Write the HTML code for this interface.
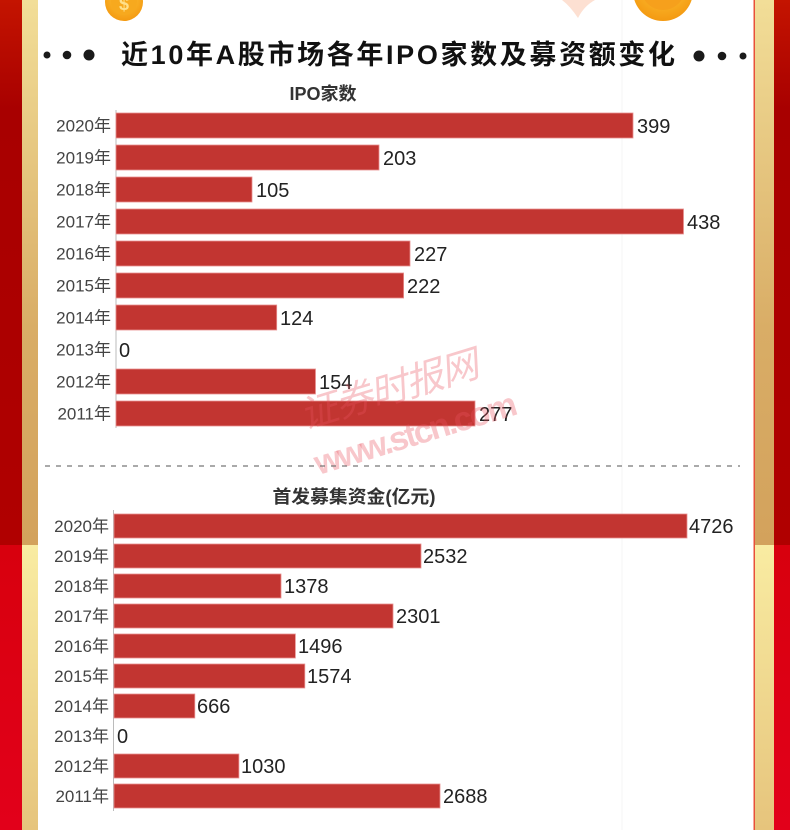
<!DOCTYPE html>
<html><head><meta charset="utf-8">
<style>
html,body{margin:0;padding:0;background:#fff;}
svg{display:block;}
text{font-family:"Liberation Sans","Noto Sans CJK SC",sans-serif;}
</style></head>
<body>
<svg width="790" height="830" viewBox="0 0 790 830" xmlns="http://www.w3.org/2000/svg">
<defs>
<linearGradient id="lgTop" x1="0" y1="0" x2="0" y2="1">
<stop offset="0" stop-color="#f2de98"/><stop offset="0.6" stop-color="#d9ad66"/><stop offset="1" stop-color="#d3a25c"/>
</linearGradient>
<linearGradient id="lgBot" x1="0" y1="0" x2="0" y2="1">
<stop offset="0" stop-color="#f9eca2"/><stop offset="1" stop-color="#e6c47c"/>
</linearGradient>
<linearGradient id="redTop" x1="0" y1="0" x2="0" y2="1">
<stop offset="0" stop-color="#c41400"/><stop offset="0.2" stop-color="#a80000"/><stop offset="1" stop-color="#b00000"/>
</linearGradient>
<linearGradient id="redBot" x1="0" y1="0" x2="0" y2="1">
<stop offset="0" stop-color="#d8000e"/><stop offset="1" stop-color="#e2001a"/>
</linearGradient>
<radialGradient id="coin" cx="0.5" cy="0.4" r="0.6">
<stop offset="0" stop-color="#ffc93a"/><stop offset="1" stop-color="#f49a12"/>
</radialGradient>
</defs>

<!-- borders -->
<rect x="0" y="0" width="22" height="545" fill="url(#redTop)"/>
<rect x="0" y="545" width="22" height="285" fill="url(#redBot)"/>
<rect x="22" y="0" width="16" height="545" fill="url(#lgTop)"/>
<rect x="22" y="545" width="16" height="285" fill="url(#lgBot)"/>
<rect x="774" y="0" width="16" height="545" fill="url(#redTop)"/>
<rect x="774" y="545" width="16" height="285" fill="url(#redBot)"/>
<rect x="755" y="0" width="19" height="545" fill="url(#lgTop)"/>
<rect x="755" y="545" width="19" height="285" fill="url(#lgBot)"/>
<rect x="753.5" y="0" width="1.5" height="830" fill="#e8503a"/>

<!-- decorations -->
<circle cx="124" cy="2" r="19" fill="url(#coin)"/>
<circle cx="124" cy="2" r="13" fill="#f7a91e"/>
<text x="124" y="10" font-size="18" font-weight="bold" fill="#ffe08a" text-anchor="middle">$</text>
<circle cx="663" cy="-9" r="30" fill="url(#coin)"/>
<circle cx="663" cy="-12" r="22" fill="#f6a01c"/>
<path d="M562 0 Q570 6 578 18 Q584 6 595 0 Z" fill="#fde0d2"/>
<line x1="622" y1="0" x2="622" y2="830" stroke="#f4f4f4" stroke-width="1"/>

<!-- main title -->
<circle cx="47" cy="55" r="3.5" fill="#1a1a1a"/>
<circle cx="67" cy="55" r="4.3" fill="#1a1a1a"/>
<circle cx="89" cy="55" r="5.5" fill="#1a1a1a"/>
<circle cx="699" cy="56" r="5.5" fill="#1a1a1a"/>
<circle cx="722" cy="56" r="4.3" fill="#1a1a1a"/>
<circle cx="743" cy="56" r="3.5" fill="#1a1a1a"/>
<text x="121" y="64" font-size="27" font-weight="bold" fill="#111" textLength="554" lengthAdjust="spacing">近10年A股市场各年IPO家数及募资额变化</text>

<!-- chart 1 -->
<text x="323" y="100" font-size="18" font-weight="bold" fill="#333" text-anchor="middle">IPO家数</text>
<line x1="116" y1="110" x2="116" y2="428" stroke="#bbb" stroke-width="1"/>
<g fill="#c23531" stroke="#e89090" stroke-width="0.8">
<rect x="116" y="113" width="517" height="25"/>
<rect x="116" y="145" width="263" height="25"/>
<rect x="116" y="177" width="136" height="25"/>
<rect x="116" y="209" width="567.5" height="25"/>
<rect x="116" y="241" width="294" height="25"/>
<rect x="116" y="273" width="287.6" height="25"/>
<rect x="116" y="305" width="160.7" height="25"/>
<rect x="116" y="369" width="199.5" height="25"/>
<rect x="116" y="401" width="359" height="25"/>
</g>
<g font-size="17" fill="#444" text-anchor="end">
<text x="111" y="131.5">2020年</text>
<text x="111" y="163.5">2019年</text>
<text x="111" y="195.5">2018年</text>
<text x="111" y="227.5">2017年</text>
<text x="111" y="259.5">2016年</text>
<text x="111" y="291.5">2015年</text>
<text x="111" y="323.5">2014年</text>
<text x="111" y="355.5">2013年</text>
<text x="111" y="387.5">2012年</text>
<text x="111" y="419.5">2011年</text>
</g>
<g font-size="20" fill="#222">
<text x="637" y="133">399</text>
<text x="383" y="165">203</text>
<text x="256" y="197">105</text>
<text x="687" y="229">438</text>
<text x="414" y="261">227</text>
<text x="407" y="293">222</text>
<text x="280" y="325">124</text>
<text x="119" y="357">0</text>
<text x="319" y="389">154</text>
<text x="479" y="421">277</text>
</g>

<!-- watermark -->
<g transform="rotate(-17 400 400)" fill="#e8505e" fill-opacity="0.32">
<text x="300" y="400" font-size="38" font-family="'Noto Serif CJK SC',serif" font-style="italic" textLength="185" lengthAdjust="spacing">证券时报网</text>
<text x="300" y="448" font-size="34" font-weight="bold" textLength="210" lengthAdjust="spacing">www.stcn.com</text>
</g>

<!-- separator -->
<line x1="45" y1="466" x2="740" y2="466" stroke="#777" stroke-width="1.3" stroke-dasharray="5,6"/>

<!-- chart 2 -->
<text x="354" y="503" font-size="18" font-weight="bold" fill="#333" text-anchor="middle" textLength="163" lengthAdjust="spacingAndGlyphs">首发募集资金(亿元)</text>
<line x1="113.5" y1="510" x2="113.5" y2="811" stroke="#bbb" stroke-width="1"/>
<g fill="#c23531" stroke="#e89090" stroke-width="0.8">
<rect x="114" y="514" width="573" height="24"/>
<rect x="114" y="544" width="307" height="24"/>
<rect x="114" y="574" width="167" height="24"/>
<rect x="114" y="604" width="279" height="24"/>
<rect x="114" y="634" width="181.4" height="24"/>
<rect x="114" y="664" width="190.8" height="24"/>
<rect x="114" y="694" width="80.8" height="24"/>
<rect x="114" y="754" width="124.9" height="24"/>
<rect x="114" y="784" width="326" height="24"/>
</g>
<g font-size="17" fill="#444" text-anchor="end">
<text x="109" y="532">2020年</text>
<text x="109" y="562">2019年</text>
<text x="109" y="592">2018年</text>
<text x="109" y="622">2017年</text>
<text x="109" y="652">2016年</text>
<text x="109" y="682">2015年</text>
<text x="109" y="712">2014年</text>
<text x="109" y="742">2013年</text>
<text x="109" y="772">2012年</text>
<text x="109" y="802">2011年</text>
</g>
<g font-size="20" fill="#222">
<text x="689" y="533">4726</text>
<text x="423" y="563">2532</text>
<text x="284" y="593">1378</text>
<text x="396" y="623">2301</text>
<text x="298" y="653">1496</text>
<text x="307" y="683">1574</text>
<text x="197" y="713">666</text>
<text x="117" y="743">0</text>
<text x="241" y="773">1030</text>
<text x="443" y="803">2688</text>
</g>
</svg>
</body></html>
